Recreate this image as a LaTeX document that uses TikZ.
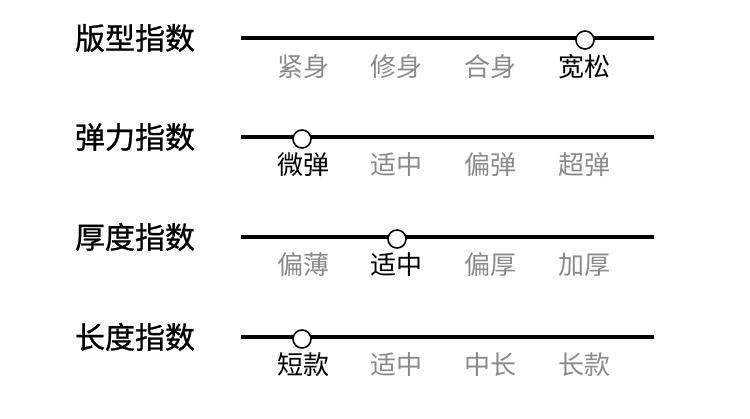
\documentclass[tikz,border=0pt]{standalone}
\usepackage{fontspec}
\setmainfont{Noto Sans CJK SC}
\newfontfamily\titlefont[FakeBold=0.9]{Noto Sans CJK SC}
\usepackage{xcolor}
\usetikzlibrary{positioning}
\definecolor{softgray}{HTML}{8A8A8A}
\tikzset{
    index-title/.style = {font=\titlefont\fontsize{30}{30}\selectfont, inner sep=0pt},
    scale-line/.style = {line width=3.5pt},
    scale-knob/.style = {circle, draw, fill=white, line width=1.6pt, minimum size=18pt, inner sep=0pt},
    scale-label/.style = {text=softgray, font=\fontsize{26}{26}\selectfont, inner sep=0pt},
    scale-pick/.style = {text=black},
}

\begin{document}
\begin{tikzpicture}[x=1pt,y=-1pt]
\useasboundingbox (0,0) rectangle (750,418);

% fit
\node [index-title] (fit-title) at (135,38) {版型指数};
\coordinate (fit-start) at (241,38);
\coordinate (fit-end) at (654,38);
\draw [scale-line] (fit-start) -- (fit-end);
\node [scale-label] (fit-a) at (303,67) {紧身};
\node [scale-label] (fit-b) at (396,67) {修身};
\node [scale-label] (fit-c) at (490,67) {合身};
\node [scale-label, scale-pick] (fit-d) at (584,67) {宽松};
\node [scale-knob] (fit-knob) at (585,40) {};

% stretch
\node [index-title] (stretch-title) at (135,137) {弹力指数};
\coordinate (stretch-start) at (241,137);
\coordinate (stretch-end) at (654,137);
\draw [scale-line] (stretch-start) -- (stretch-end);
\node [scale-label, scale-pick] (stretch-a) at (303,165) {微弹};
\node [scale-label] (stretch-b) at (396,165) {适中};
\node [scale-label] (stretch-c) at (490,165) {偏弹};
\node [scale-label] (stretch-d) at (584,165) {超弹};
\node [scale-knob] (stretch-knob) at (302,139) {};

% thickness
\node [index-title] (thick-title) at (135,237) {厚度指数};
\coordinate (thick-start) at (241,237);
\coordinate (thick-end) at (654,237);
\draw [scale-line] (thick-start) -- (thick-end);
\node [scale-label] (thick-a) at (303,265) {偏薄};
\node [scale-label, scale-pick] (thick-b) at (396,265) {适中};
\node [scale-label] (thick-c) at (490,265) {偏厚};
\node [scale-label] (thick-d) at (584,265) {加厚};
\node [scale-knob] (thick-knob) at (397,239) {};

% length
\node [index-title] (length-title) at (135,337) {长度指数};
\coordinate (length-start) at (241,337);
\coordinate (length-end) at (654,337);
\draw [scale-line] (length-start) -- (length-end);
\node [scale-label, scale-pick] (length-a) at (303,365) {短款};
\node [scale-label] (length-b) at (396,365) {适中};
\node [scale-label] (length-c) at (490,365) {中长};
\node [scale-label] (length-d) at (584,365) {长款};
\node [scale-knob] (length-knob) at (302,339) {};
\end{tikzpicture}
\end{document}
